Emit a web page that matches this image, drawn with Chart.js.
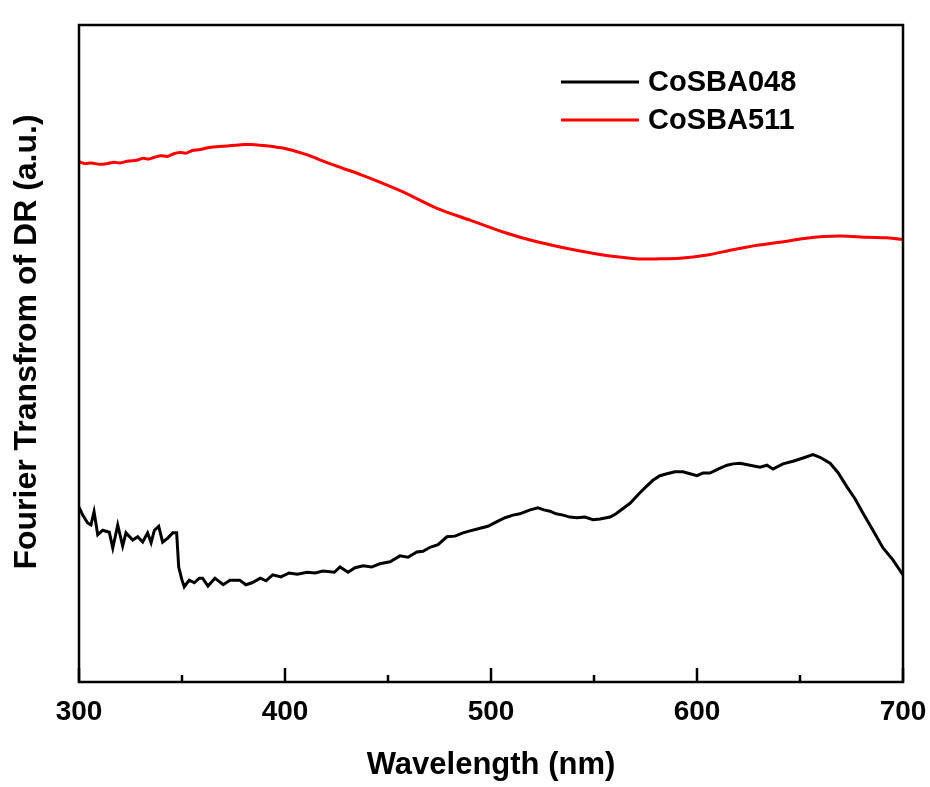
<!DOCTYPE html>
<html>
<head>
<meta charset="utf-8">
<script src="https://cdn.jsdelivr.net/npm/chart.js@4/dist/chart.umd.min.js"></script>
<style>
  html, body { margin: 0; padding: 0; background: #fff; }
  #wrap { width: 930px; height: 787px; }
</style>
</head>
<body>
<div id="wrap"><canvas id="c" width="930" height="787"></canvas></div>
<script>
// ---- Data ----
const seriesNames = ["CoSBA048", "CoSBA511"];
const xTickValues = [300, 400, 500, 600, 700];
const yTitle = "Fourier Transfrom of DR (a.u.)";
const xTitle = "Wavelength (nm)";

const wavelength048 = [300, 301.8, 304.2, 305.8, 307.3, 309.1, 311.5, 314.7, 316.4, 318.8, 321.2, 322.8, 326.1, 328.5, 330.9, 333.3, 335, 336.6, 338.7, 340.6, 343.1, 345.5, 347.4, 348.4, 350, 351.1, 353.5, 356, 358.4, 360, 362.6, 366, 370, 373.3, 378, 381, 384, 388, 390.8, 394, 398, 402, 406, 410.7, 414.6, 418.4, 424, 426.7, 430.6, 434, 437.9, 442, 446, 451, 455.8, 459.7, 464, 467, 470.4, 474.3, 478.6, 482.5, 486.4, 489.8, 494.7, 498.5, 502.9, 506.8, 510.7, 514, 519, 522.8, 525.7, 528.6, 531.6, 535, 538.3, 541.7, 545.6, 549.5, 552.9, 557.8, 560.7, 563.6, 567.5, 572.3, 575.2, 578.6, 582, 585.4, 589.3, 593.2, 596.6, 600, 602.9, 606.3, 610.2, 614.6, 617.5, 620.9, 625.7, 630.6, 634, 636.9, 641.7, 646.6, 651.5, 656.3, 659.7, 664.6, 668.4, 672.8, 676.7, 680.6, 685.4, 690.3, 695.1, 700];
const values048 = [26.6, 25.4, 24.2, 23.9, 25.9, 22.4, 23.1, 22.8, 20.4, 23.9, 20.7, 22.7, 21.6, 22.1, 21.3, 22.7, 21.2, 23.1, 23.7, 21.3, 21.9, 22.7, 22.7, 17.5, 15.5, 14.5, 15.5, 15.1, 15.8, 15.8, 14.6, 15.8, 14.8, 15.5, 15.5, 14.8, 15.1, 15.8, 15.4, 16.3, 16.0, 16.6, 16.4, 16.7, 16.6, 16.9, 16.7, 17.5, 16.7, 17.4, 17.7, 17.5, 18.0, 18.3, 19.2, 19.0, 19.8, 19.9, 20.5, 20.9, 22.1, 22.2, 22.7, 23.0, 23.4, 23.7, 24.4, 25.0, 25.4, 25.6, 26.2, 26.5, 26.2, 26.0, 25.6, 25.4, 25.1, 25.0, 25.1, 24.7, 24.8, 25.1, 25.6, 26.3, 27.2, 28.8, 29.7, 30.7, 31.4, 31.7, 32.0, 32.0, 31.7, 31.4, 31.8, 31.8, 32.4, 33.0, 33.2, 33.3, 33.0, 32.7, 33.0, 32.4, 33.2, 33.6, 34.1, 34.6, 34.2, 33.3, 31.9, 29.7, 27.9, 25.7, 23.1, 20.4, 18.6, 16.3];

const wavelength511 = [300, 303, 306, 310, 313.6, 317, 320, 324, 328, 331, 334, 337, 340, 343, 346, 349, 352, 355, 358, 361, 364, 368, 372, 376, 380, 384, 388, 392, 396, 400, 404, 408, 412, 416, 420, 428, 437, 446, 457.3, 473.8, 489.8, 505.8, 522.3, 538.3, 554.4, 567.5, 572.3, 580, 591.7, 605, 617.5, 630, 643.7, 652, 661.2, 670, 682.5, 692, 698.5, 700];
const values511 = [79.2, 78.9, 79.0, 78.8, 78.9, 79.1, 79.0, 79.3, 79.4, 79.7, 79.6, 79.9, 80.1, 80.0, 80.4, 80.6, 80.5, 80.9, 81.0, 81.2, 81.4, 81.5, 81.6, 81.7, 81.8, 81.8, 81.7, 81.6, 81.4, 81.2, 80.9, 80.5, 80.1, 79.6, 79.1, 78.2, 77.2, 76.1, 74.6, 72.1, 70.3, 68.5, 67.0, 65.9, 65.0, 64.5, 64.4, 64.4, 64.5, 65.0, 65.8, 66.5, 67.1, 67.5, 67.8, 67.9, 67.7, 67.6, 67.4, 67.4];

const seriesColors = ["#000000", "#ff0000"];

// ---- Build datasets ----
function toPoints(xs, ys) { return xs.map((x, i) => ({ x: x, y: ys[i] })); }

const FONT = "'Liberation Sans', Arial, sans-serif";

const framePlugin = {
  id: 'frame',
  afterDraw(chart) {
    const ctx = chart.ctx;
    const a = chart.chartArea;
    const xs = chart.scales.x;
    ctx.save();
    ctx.strokeStyle = '#000';
    ctx.lineWidth = 2.5;
    // inward ticks on bottom axis (major 100, minor 50)
    for (let v = xs.min; v <= xs.max; v += 50) {
      const px = xs.getPixelForValue(v);
      const len = (v % 100 === 0) ? 14 : 7;
      ctx.beginPath();
      ctx.moveTo(px, a.bottom);
      ctx.lineTo(px, a.bottom - len);
      ctx.stroke();
    }
    ctx.lineWidth = 2.5;
    ctx.strokeRect(a.left, a.top, a.right - a.left, a.bottom - a.top);
    // y-axis title
    ctx.save();
    ctx.translate(27, 342);
    ctx.rotate(-Math.PI / 2);
    ctx.font = "bold 32px " + FONT;
    ctx.textAlign = 'center';
    ctx.textBaseline = 'middle';
    ctx.fillStyle = '#000';
    ctx.fillText(yTitle, 0, 0);
    ctx.restore();
    // legend
    ctx.font = "bold 29px " + FONT;
    ctx.textBaseline = 'middle';
    ctx.textAlign = 'left';
    const rows = [82, 120];
    chart.data.datasets.forEach((ds, i) => {
      ctx.strokeStyle = ds.borderColor;
      ctx.lineWidth = 3;
      ctx.beginPath();
      ctx.moveTo(561, rows[i]);
      ctx.lineTo(639, rows[i]);
      ctx.stroke();
      ctx.fillStyle = '#000';
      ctx.fillText(ds.label, 648, rows[i] + 1);
    });
    ctx.restore();
  }
};

new Chart(document.getElementById('c'), {
  type: 'line',
  data: {
    datasets: [
      { label: seriesNames[0], data: toPoints(wavelength048, values048), borderColor: seriesColors[0], borderWidth: 3, pointRadius: 0, tension: 0, fill: false },
      { label: seriesNames[1], data: toPoints(wavelength511, values511), borderColor: seriesColors[1], borderWidth: 3, pointRadius: 0, tension: 0.3, fill: false }
    ]
  },
  options: {
    responsive: false,
    animation: false,
    layout: { padding: { top: 25, right: 27, left: 0, bottom: 0 } },
    plugins: { legend: { display: false }, tooltip: { enabled: false } },
    scales: {
      x: {
        type: 'linear',
        min: 300, max: 700,
        grid: { display: false, drawTicks: false },
        border: { display: false },
        afterBuildTicks(scale) { scale.ticks = xTickValues.map(v => ({ value: v })); },
        afterFit(scale) { scale.height = 105; scale.paddingLeft = 0; scale.paddingRight = 0; },
        ticks: { color: '#000', font: { family: FONT, size: 28, weight: 'bold' }, padding: 13, maxRotation: 0 },
        title: { display: true, text: xTitle, color: '#000', font: { family: FONT, size: 31, weight: 'bold' }, padding: { top: 3, bottom: 3 } }
      },
      y: {
        type: 'linear',
        min: 0, max: 100,
        grid: { display: false, drawTicks: false },
        border: { display: false },
        ticks: { display: false },
        afterFit(scale) { scale.width = 79; scale.paddingTop = 0; scale.paddingBottom = 0; },
        title: { display: false, text: yTitle }
      }
    }
  },
  plugins: [framePlugin]
});
</script>
</body>
</html>
